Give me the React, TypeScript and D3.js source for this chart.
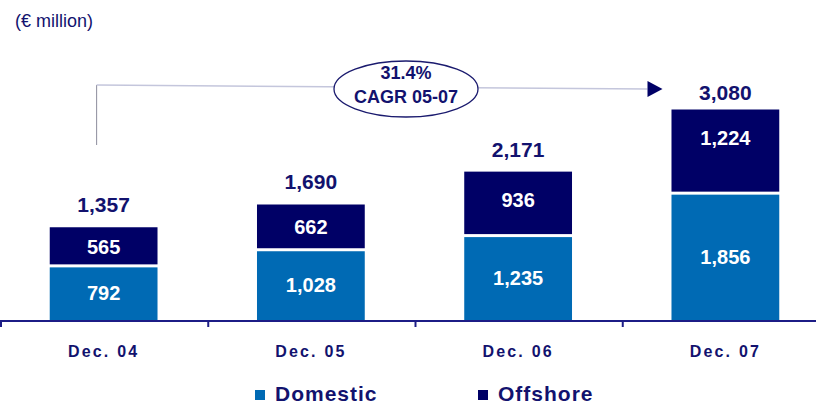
import React, { useEffect, useRef } from "react";
import * as d3 from "d3";

// chart data (€ million)
const categories = ["Dec. 04", "Dec. 05", "Dec. 06", "Dec. 07"];
const domestic = [792, 1028, 1235, 1856];
const offshore = [565, 662, 936, 1224];
const totals = [1357, 1690, 2171, 3080];
const seriesNames = ["Domestic", "Offshore"];
const cagrLines = ["31.4%", "CAGR 05-07"];

const COL_DOM = "#006ab4";
const COL_OFF = "#000066";
const COL_TEXT = "#12126e";
const FONT = "'Liberation Sans', Arial, sans-serif";

export default function App() {
  const ref = useRef<SVGSVGElement>(null);

  useEffect(() => {
    const svg = d3.select(ref.current);
    svg.selectAll("*").remove();

    const width = 816;
    const baseY = 320;

    const x = d3
      .scaleBand()
      .domain(categories)
      .range([0, 829])
      .paddingInner(0.48)
      .paddingOuter(0.24);
    const y = d3.scaleLinear().domain([0, 3080]).range([baseY, 109.5]);

    //unit label
    svg
      .append("text")
      .attr("x", 15)
      .attr("y", 27)
      .attr("fill", COL_TEXT)
      .style("font-family", FONT)
      .style("font-size", "18px")
      .text("(€ million)");

    const bars = svg
      .selectAll("g.bar")
      .data(categories)
      .enter()
      .append("g")
      .attr("class", "bar");

    // domestic segment
    bars
      .append("rect")
      .attr("x", (d) => x(d)!)
      .attr("width", x.bandwidth())
      .attr("y", (d, i) => y(domestic[i]) + 1.5)
      .attr("height", (d, i) => baseY - y(domestic[i]) - 1.5)
      .attr("fill", COL_DOM);

    // offshore segment
    bars
      .append("rect")
      .attr("x", (d) => x(d)!)
      .attr("width", x.bandwidth())
      .attr("y", (d, i) => y(totals[i]))
      .attr("height", (d, i) => y(domestic[i]) - y(totals[i]) - 1.5)
      .attr("fill", COL_OFF);

    const cx = (d: string) => x(d)! + x.bandwidth() / 2;

    bars
      .append("text")
      .attr("x", cx)
      .attr("y", (d, i) => (y(domestic[i]) + baseY) / 2 + 7)
      .attr("text-anchor", "middle")
      .attr("fill", "#fff")
      .style("font-family", FONT)
      .style("font-weight", "bold")
      .style("font-size", "20px")
      .text((d, i) => d3.format(",")(domestic[i]));

    bars
      .append("text")
      .attr("x", cx)
      .attr("y", (d, i) =>
        Math.min((y(totals[i]) + y(domestic[i])) / 2, y(totals[i]) + 28) + 7
      )
      .attr("text-anchor", "middle")
      .attr("fill", "#fff")
      .style("font-family", FONT)
      .style("font-weight", "bold")
      .style("font-size", "20px")
      .text((d, i) => d3.format(",")(offshore[i]));

    bars
      .append("text")
      .attr("x", cx)
      .attr("y", (d, i) => Math.max(y(totals[i]) - 15, 100))
      .attr("text-anchor", "middle")
      .attr("fill", COL_TEXT)
      .style("font-family", FONT)
      .style("font-weight", "bold")
      .style("font-size", "21px")
      .text((d, i) => d3.format(",")(totals[i]));

    // axis
    svg
      .append("line")
      .attr("x1", 0)
      .attr("x2", width)
      .attr("y1", baseY + 1)
      .attr("y2", baseY + 1)
      .attr("stroke", "#1c1c86")
      .attr("stroke-width", 2);
    svg
      .selectAll("line.tick")
      .data(d3.range(categories.length + 1))
      .enter()
      .append("line")
      .attr("class", "tick")
      .attr("x1", (i) => i * x.step() + 1)
      .attr("x2", (i) => i * x.step() + 1)
      .attr("y1", baseY)
      .attr("y2", baseY + 7)
      .attr("stroke", "#1c1c86")
      .attr("stroke-width", 2);
    svg
      .selectAll("text.cat")
      .data(categories)
      .enter()
      .append("text")
      .attr("class", "cat")
      .attr("x", cx)
      .attr("y", 357)
      .attr("text-anchor", "middle")
      .attr("fill", COL_TEXT)
      .style("font-family", FONT)
      .style("font-weight", "bold")
      .style("font-size", "16px")
      .style("letter-spacing", "2.2px")
      .text((d) => d);

    // CAGR annotation
    const x0 = cx(categories[0]) - 7;
    const x1 = x(categories[3])! - 24;
    svg
      .append("line")
      .attr("x1", x0)
      .attr("x2", x0)
      .attr("y1", 85)
      .attr("y2", 145)
      .attr("stroke", "#8c8c9c")
      .attr("stroke-width", 1);
    svg
      .append("line")
      .attr("x1", x0)
      .attr("x2", x1)
      .attr("y1", 85)
      .attr("y2", 89)
      .attr("stroke", "#c4c6dc")
      .attr("stroke-width", 1.5);
    svg
      .append("path")
      .attr("d", `M${x1},81 L${x1 + 15},89 L${x1},97 Z`)
      .attr("fill", COL_OFF);
    svg
      .append("ellipse")
      .attr("cx", 406)
      .attr("cy", 89)
      .attr("rx", 72)
      .attr("ry", 28)
      .attr("fill", "#fff")
      .attr("stroke", "#1a1a6e")
      .attr("stroke-width", 1.3);
    svg
      .selectAll("text.cagr")
      .data(cagrLines)
      .enter()
      .append("text")
      .attr("class", "cagr")
      .attr("x", 406)
      .attr("y", (d, i) => 79 + i * 24)
      .attr("text-anchor", "middle")
      .attr("fill", COL_TEXT)
      .style("font-family", FONT)
      .style("font-weight", "bold")
      .style("font-size", "18px")
      .text((d) => d);

    // legend
    const legendX = [255, 478];
    const legend = svg
      .selectAll("g.legend")
      .data(seriesNames)
      .enter()
      .append("g")
      .attr("class", "legend")
      .attr("transform", (d, i) => "translate(" + legendX[i] + ",390)");
    legend
      .append("rect")
      .attr("width", 10)
      .attr("height", 10)
      .attr("fill", (d, i) => (i === 0 ? COL_DOM : COL_OFF));
    legend
      .append("text")
      .attr("x", 20)
      .attr("y", 11)
      .attr("fill", COL_TEXT)
      .style("font-family", FONT)
      .style("font-weight", "bold")
      .style("font-size", "21px")
      .style("letter-spacing", "1px")
      .text((d) => d);
  }, []);

  return (
    <div style={{ position: "absolute", left: 0, top: 0 }}>
      <svg ref={ref} width={816} height={405} style={{ display: "block", background: "#fff" }} />
    </div>
  );
}
